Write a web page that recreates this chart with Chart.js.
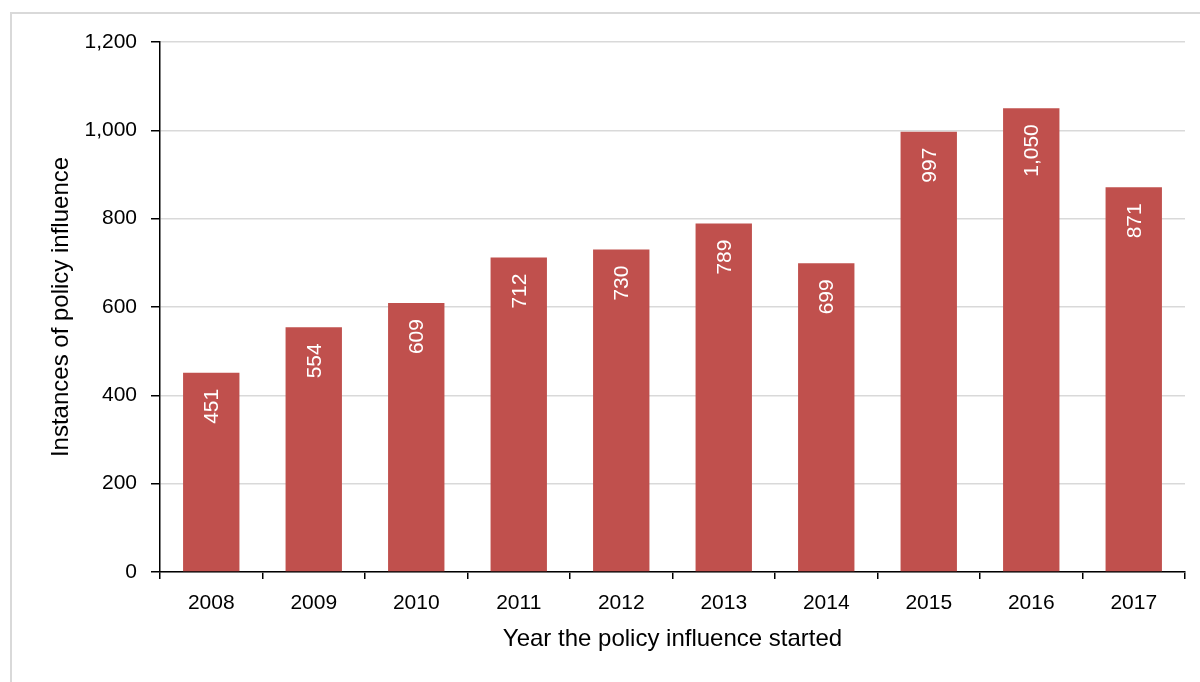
<!DOCTYPE html>
<html>
<head>
<meta charset="utf-8">
<script src="https://cdn.jsdelivr.net/npm/chart.js@4"></script>
<style>
  body { margin: 0; background: #fff; }
  #frame { position: absolute; left: 10px; top: 12px; width: 1220px; height: 700px; border: 2px solid #d9d9d9; }
  #wrap { position: absolute; left: 0; top: 0; width: 1200px; height: 682px; }
</style>
</head>
<body>
<div id="frame"></div>
<div id="wrap"><canvas id="myChart" width="1200" height="682"></canvas></div>
<script>
const years = ["2008", "2009", "2010", "2011", "2012", "2013", "2014", "2015", "2016", "2017"];
const instances = [451, 554, 609, 712, 730, 789, 699, 997, 1050, 871];
const yTicks = [0, 200, 400, 600, 800, 1000, 1200];

const FONT = "'Liberation Sans', Arial, sans-serif";

// white rotated value labels inside each bar
const barLabels = {
  id: "barLabels",
  afterDatasetsDraw(chart) {
    const ctx = chart.ctx;
    const meta = chart.getDatasetMeta(0);
    ctx.save();
    ctx.fillStyle = "#ffffff";
    ctx.font = "21px " + FONT;
    ctx.textAlign = "right";
    ctx.textBaseline = "middle";
    meta.data.forEach((bar, i) => {
      ctx.save();
      ctx.translate(bar.x, bar.y + 16);
      ctx.rotate(-Math.PI / 2);
      ctx.fillText(instances[i].toLocaleString("en-US"), 0, 1);
      ctx.restore();
    });
    ctx.restore();
  },
};

const chart = new Chart(document.getElementById("myChart"), {
  type: "bar",
  data: {
    labels: years,
    datasets: [
      {
        data: instances,
        backgroundColor: "#c0504d",
        categoryPercentage: 1,
        barPercentage: 0.55,
      },
    ],
  },
  options: {
    responsive: false,
    animation: false,
    layout: { padding: { top: 42, right: 15, left: 0, bottom: 0 } },
    plugins: {
      legend: { display: false },
      tooltip: { enabled: false },
    },
    scales: {
      x: {
        grid: {
          offset: true,
          drawOnChartArea: false,
          tickLength: 7,
          color: "#000",
          lineWidth: 1.5,
        },
        border: { color: "#000", width: 1.5 },
        ticks: { color: "#000", font: { family: FONT, size: 21 }, padding: 12, maxRotation: 0 },
        title: {
          display: true,
          text: "Year the policy influence started",
          color: "#000",
          font: { family: FONT, size: 24 },
          padding: { top: 0, bottom: 28 },
        },
        afterFit(scale) {
          scale.height = 110;
        },
      },
      y: {
        min: 0,
        max: 1200,
        afterBuildTicks(scale) {
          scale.ticks = yTicks.map((v) => ({ value: v }));
        },
        grid: {
          color: "#d9d9d9",
          lineWidth: 1.5,
          tickColor: "#000",
          tickLength: 9,
        },
        border: { color: "#000", width: 1.5 },
        ticks: {
          color: "#000",
          font: { family: FONT, size: 21 },
          padding: 14,
          callback: (v) => v.toLocaleString("en-US"),
        },
        title: {
          display: true,
          text: "Instances of policy influence",
          color: "#000",
          font: { family: FONT, size: 24 },
          padding: { top: 47, bottom: 0 },
        },
        afterFit(scale) {
          scale.width = 160;
        },
      },
    },
  },
  plugins: [barLabels],
});
</script>
</body>
</html>
